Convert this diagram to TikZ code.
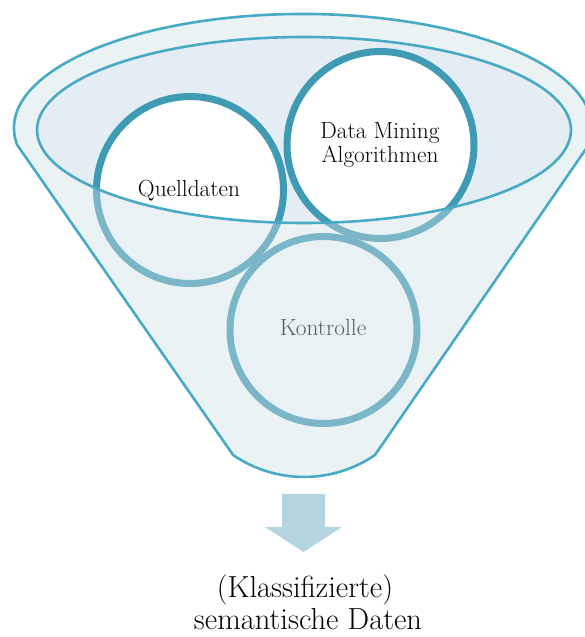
\documentclass[tikz,border=0pt]{standalone}
\usepackage{tikz}

\definecolor{rimline}{RGB}{72,170,197}
\definecolor{bowlfill}{RGB}{228,237,243}
\definecolor{ringline}{RGB}{63,154,179}
\definecolor{veil}{RGB}{205,223,229}
\definecolor{arrowfill}{RGB}{178,213,224}

\tikzset{
  ring/.style={circle, minimum size=187, inner sep=0pt, draw=ringline,
               line width=7pt, fill=white},
  ringtext/.style={anchor=base, inner sep=0pt, text=black,
                   font=\fontsize{23.3}{24}\selectfont},
  bigtext/.style={anchor=base, inner sep=0pt, text=black,
                  font=\fontsize{30.5}{33}\selectfont},
  outline/.style={draw=rimline, line width=2.6pt, line join=round}
}

\begin{document}
\begin{tikzpicture}[x=1pt, y=1pt]
\useasboundingbox (0,0) rectangle (584,637);

% bowl of the funnel (inner rim)
\fill[bowlfill] (304,507) ellipse[x radius=267, y radius=93];

% the three stages
\node[ring] (src) at (190,447) {};
\node[ring] (dm)  at (380.5,492) {};
\node[ring] (ctl) at (323.5,307) {};

\node[ringtext] (srcT) at (189,440) {Quelldaten};
\node[ringtext] (dmT1) at (380,498) {Data Mining};
\node[ringtext] (dmT2) at (380,474) {Algorithmen};
\node[ringtext] (ctlT) at (323,301) {Kontrolle};

% translucent body of the funnel over everything below the rim
\fill[veil, fill opacity=0.42, even odd rule]
  (17.2,492) arc[start angle=188.6, end angle=-8.6, x radius=289, y radius=114]
  -- (375,182) arc[start angle=-55.6, end angle=-124.4, radius=125.6] -- cycle
  (304,507) ellipse[x radius=267, y radius=93];

% outlines
\path[outline]
  (17.2,492) arc[start angle=188.6, end angle=-8.6, x radius=289, y radius=114]
  -- (375,182) arc[start angle=-55.6, end angle=-124.4, radius=125.6] -- cycle;
\path[outline] (304,507) ellipse[x radius=267, y radius=93];

% output arrow
\fill[arrowfill] (282,143) -- (325,143) -- (325,110) -- (342,110)
  -- (303.5,85) -- (265,110) -- (282,110) -- cycle;

% result
\node[bigtext] (res1) at (305,39) {(Klassifizierte)};
\node[bigtext] (res2) at (308,7) {semantische Daten};
\end{tikzpicture}
\end{document}
